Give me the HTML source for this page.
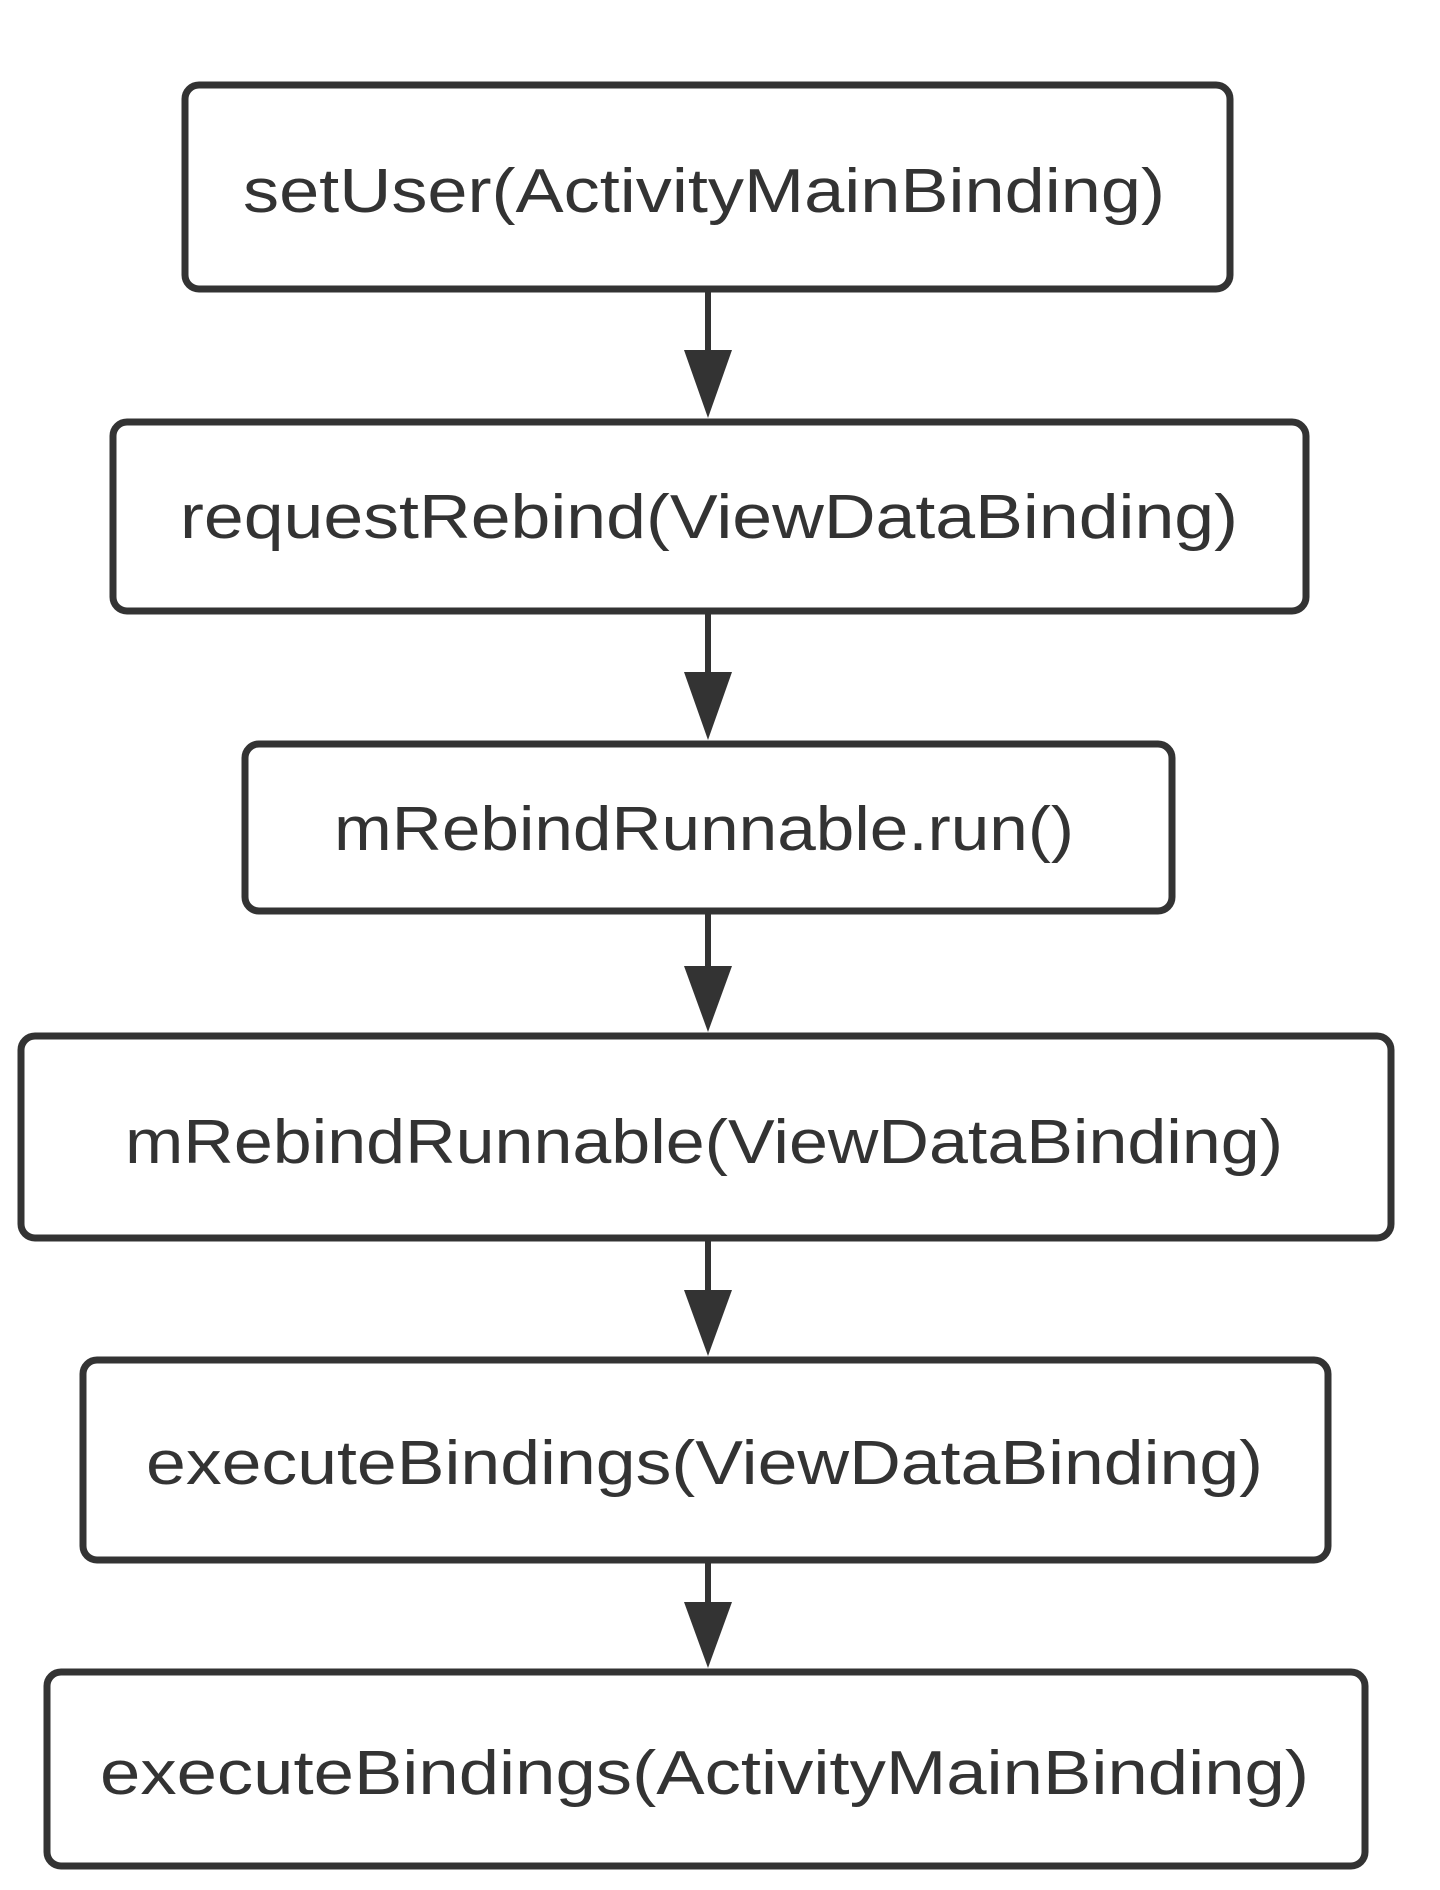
<!DOCTYPE html>
<html><head><meta charset="utf-8"><style>
html,body{margin:0;padding:0;background:#fff;}
svg{display:block;}
text{font-family:"Liberation Sans",sans-serif;font-size:62px;fill:#333;}
</style></head><body>
<svg width="1440" height="1890" viewBox="0 0 1440 1890" xmlns="http://www.w3.org/2000/svg">
<g fill="#fff" stroke="#333" stroke-width="7">
<rect x="185" y="85" width="1045" height="204" rx="14"/>
<rect x="113" y="422" width="1193" height="189" rx="14"/>
<rect x="245" y="744" width="927" height="167" rx="14"/>
<rect x="21" y="1036" width="1370" height="202" rx="14"/>
<rect x="83" y="1360" width="1245" height="200" rx="14"/>
<rect x="47" y="1672" width="1318" height="194" rx="14"/>
</g>
<g stroke="#333" stroke-width="6">
<line x1="708" y1="289" x2="708" y2="360"/>
<line x1="708" y1="611" x2="708" y2="682"/>
<line x1="708" y1="911" x2="708" y2="976"/>
<line x1="708" y1="1238" x2="708" y2="1300"/>
<line x1="708" y1="1560" x2="708" y2="1612"/>
</g>
<g fill="#333">
<polygon points="684,350 732,350 708,418"/>
<polygon points="684,672 732,672 708,740"/>
<polygon points="684,966 732,966 708,1032"/>
<polygon points="684,1290 732,1290 708,1356"/>
<polygon points="684,1602 732,1602 708,1668"/>
</g>
<text x="243" y="212" textLength="922" lengthAdjust="spacingAndGlyphs">setUser(ActivityMainBinding)</text>
<text x="180" y="538" textLength="1058" lengthAdjust="spacingAndGlyphs">requestRebind(ViewDataBinding)</text>
<text x="334" y="850" textLength="740" lengthAdjust="spacingAndGlyphs">mRebindRunnable.run()</text>
<text x="125" y="1163" textLength="1158" lengthAdjust="spacingAndGlyphs">mRebindRunnable(ViewDataBinding)</text>
<text x="146" y="1484" textLength="1117" lengthAdjust="spacingAndGlyphs">executeBindings(ViewDataBinding)</text>
<text x="100" y="1794" textLength="1209" lengthAdjust="spacingAndGlyphs">executeBindings(ActivityMainBinding)</text>
</svg>
</body></html>
